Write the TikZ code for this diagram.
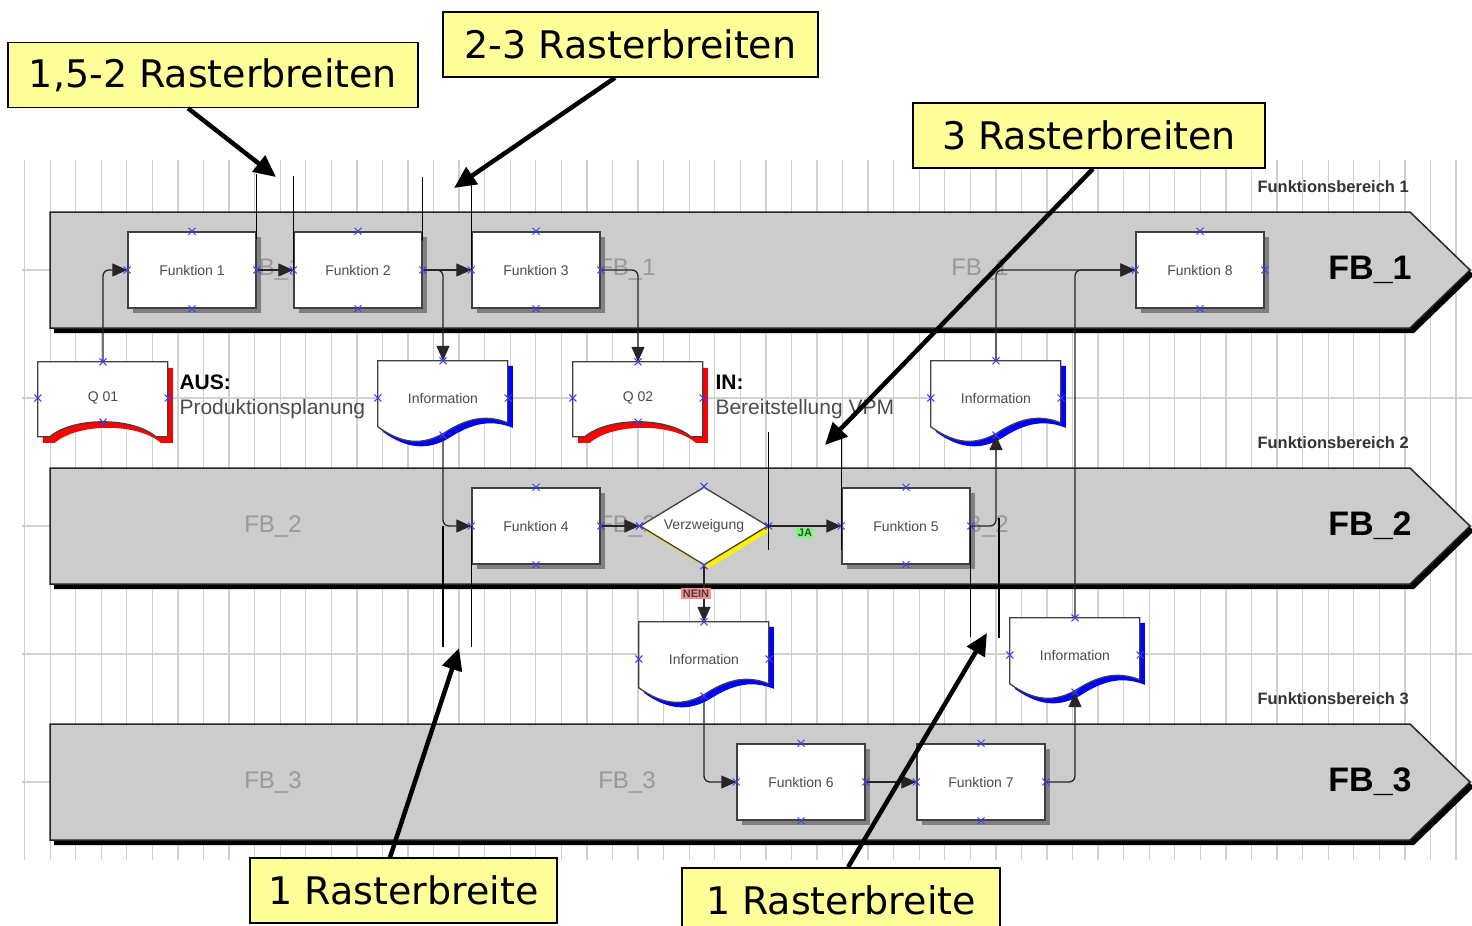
\documentclass[tikz,border=0pt]{standalone}
\usepackage{fontspec}
\setmainfont{Liberation Sans}
\newfontfamily\callfont{DejaVu Sans}
\usetikzlibrary{arrows.meta,shapes.geometric,shadows,calc}
\pgfdeclarelayer{bg}
\pgfdeclarelayer{shp}
\pgfsetlayers{bg,shp,main}
\definecolor{bandgray}{RGB}{204,204,204}
\definecolor{noteyellow}{RGB}{255,255,153}
\definecolor{cpblue}{RGB}{60,60,255}
\tikzset{
  gridline/.style={draw=black!18, line width=1.3pt},
  band/.style={fill=bandgray, draw=black!85, line width=1.5pt},
  fbbig/.style={font=\bfseries\fontsize{34}{36}\selectfont},
  fbarea/.style={anchor=west, font=\bfseries\fontsize{16.5}{18}\selectfont, text=black!80},
  watermark/.style={font=\fontsize{24}{26}\selectfont, text=black!40},
  fbox/.style={draw=black!75, line width=1.5pt, fill=white, minimum width=128pt, minimum height=76pt,
    font=\fontsize{14}{16}\selectfont, text=black!70,
    drop shadow={shadow xshift=5pt, shadow yshift=-5pt, fill=black!50, opacity=1}},
  docu/.style={minimum width=130pt, minimum height=74pt, inner sep=0pt, font=\fontsize{14}{16}\selectfont, text=black!70},
  qdoc/.style={minimum width=130pt, minimum height=72pt, inner sep=0pt, font=\fontsize{14}{16}\selectfont, text=black!70},
  docline/.style={fill=white, draw=black!75, line width=1.3pt},
  vzw/.style={diamond, aspect=1.64, draw=black!75, line width=1.3pt, fill=white, minimum width=128pt, minimum height=78pt,
    inner sep=0pt, font=\fontsize{14}{16}\selectfont, text=black!70,
    drop shadow={shadow xshift=4pt, shadow yshift=-4pt, fill=yellow, opacity=1}},
  conn/.style={draw=black!85, line width=1.3pt, rounded corners=6pt, -{Triangle[length=15pt,width=13pt]}},
  jalab/.style={sharp corners, fill=green!55, inner sep=1.5pt, font=\bfseries\fontsize{11}{12}\selectfont, text=black!75},
  neinlab/.style={sharp corners, fill=red!45, inner sep=1.5pt, font=\bfseries\fontsize{11}{12}\selectfont, text=black!75},
  labeltext/.style={anchor=west, align=left, font=\fontsize{21}{25}\selectfont, text=black!70},
  cpmark/.style={draw=cpblue, line width=1pt},
  markline/.style={draw=black, line width=1.4pt},
  note/.style={fill=noteyellow, draw=black, line width=1.5pt, minimum height=65pt, inner sep=0pt,
    font=\callfont\fontsize{38}{42}\selectfont},
  notearrow/.style={draw=black, line width=4.5pt, -{Triangle[length=22pt,width=20pt]}}
}

\begin{document}
\begin{tikzpicture}[x=1pt,y=-1pt]
  \useasboundingbox (0,0) rectangle (1472,926);

  \begin{pgfonlayer}{bg}
    \fill[white] (0,0) rectangle (1472,926);
    \foreach \k in {0,...,56}
      \draw[gridline] (24.6+25.56*\k,160) -- (24.6+25.56*\k,860);
    \foreach \y in {270,398,526,654,782}
      \draw[gridline] (22,\y) -- (1472,\y);
    \foreach \y/\n/\xs in {270/1/{273,627,980},526/2/{273,627,980},782/3/{273,627}}{
      \fill[black, shift={(4,5)}] (50,\y-58) -- (1410,\y-58) -- (1470,\y) -- (1410,\y+58) -- (50,\y+58) -- cycle;
      \draw[band] (50,\y-58) -- (1410,\y-58) -- (1470,\y) -- (1410,\y+58) -- (50,\y+58) -- cycle;
      \foreach \x in \xs
        \node[watermark] (wm\n\x) at (\x,\y) {FB\_\n};
      \node[fbbig] (fb\n) at (1370,\y) {FB\_\n};
      \node[fbarea] (fbb\n) at (1254,\y-83) {Funktionsbereich \n};
    }
  \end{pgfonlayer}

  \node[fbox] (f1) at (192,270) {Funktion 1};
  \node[fbox] (f2) at (358,270) {Funktion 2};
  \node[fbox] (f3) at (536,270) {Funktion 3};
  \node[fbox] (f8) at (1200,270) {Funktion 8};
  \node[fbox] (f4) at (536,526) {Funktion 4};
  \node[vzw] (vz) at (704,526) {Verzweigung};
  \node[fbox] (f5) at (906,526) {Funktion 5};
  \node[fbox] (f6) at (801,782) {Funktion 6};
  \node[fbox] (f7) at (981,782) {Funktion 7};

  \node[qdoc] (q1) at (103,398) {Q 01};
  \node[docu] (i1) at (443,398) {Information};
  \node[qdoc] (q2) at (638,398) {Q 02};
  \node[docu] (i2) at (996,398) {Information};
  \node[docu] (i3) at (704,659) {Information};
  \node[docu] (i4) at (1075,655) {Information};

  \node[labeltext] (aus) at (176,397) {\textbf{\color{black}AUS:}\\Produktionsplanung};
  \node[labeltext] (in) at (712,397) {\textbf{\color{black}IN:}\\Bereitstellung VPM};

  \begin{pgfonlayer}{shp}
    \foreach \d in {i1,i2,i3,i4}{
      \fill[blue, shift={($(\d.north west)+(5,5)$)}] (0,0) -- (130,0) -- (130,62)
        .. controls (105,52) and (85,60) .. (65,73) .. controls (45,84) and (25,84) .. (0,66) -- cycle;
      \draw[docline, shift={(\d.north west)}] (0,0) -- (130,0) -- (130,62)
        .. controls (105,52) and (85,60) .. (65,73) .. controls (45,84) and (25,84) .. (0,66) -- cycle;
    }
    \foreach \d in {q1,q2}{
      \fill[red, shift={($(\d.north west)+(5,6)$)}] (0,0) -- (130,0) -- (130,75) -- (118,75)
        .. controls (95,55) and (35,55) .. (12,75) -- (0,75) -- cycle;
      \draw[docline, shift={(\d.north west)}] (0,0) -- (130,0) -- (130,75) -- (118,75)
        .. controls (95,55) and (35,55) .. (12,75) -- (0,75) -- cycle;
    }
  \end{pgfonlayer}

  \draw[conn] (q1.north) |- (f1.west);
  \draw[conn] (f1.east) -- (f2.west);
  \draw[conn] (f2.east) -- (f3.west);
  \draw[conn] (f2.east) -| (i1.north);
  \draw[conn] (f3.east) -| (q2.north);
  \draw[conn] (i1.south) |- (f4.west);
  \draw[conn] (f4.east) -- (vz.west);
  \draw[conn] (vz.east) -- node[jalab, yshift=-7pt] (ja) {JA} (f5.west);
  \draw[conn] (vz.south) -- node[neinlab, xshift=-8pt] (nein) {NEIN} (i3.north);
  \draw[conn] (f5.east) -| (i2.south);
  \draw[conn] (i2.north) |- (f8.west);
  \draw[conn] (i4.north) |- (f8.west);
  \draw[conn] (i3.south) |- (f6.west);
  \draw[conn] (f6.east) -- (f7.west);
  \draw[conn] (f7.east) -| (i4.south);

  \foreach \n in {f1,f2,f3,f4,f5,f6,f7,f8,vz,i1,i2,i3,i4}
    \foreach \a in {north,south,east,west}
      \draw[cpmark] (\n.\a) +(-3.5,-3.5) -- +(3.5,3.5) +(-3.5,3.5) -- +(3.5,-3.5);
  \foreach \n in {q1,q2}{
    \foreach \a in {north,east,west}
      \draw[cpmark] (\n.\a) +(-3.5,-3.5) -- +(3.5,3.5) +(-3.5,3.5) -- +(3.5,-3.5);
    \draw[cpmark] ($(\n.south)+(0,-12)$) +(-3.5,-3.5) -- +(3.5,3.5) +(-3.5,3.5) -- +(3.5,-3.5);
  }

  \draw[markline] ([yshift=-8pt]f1.north east) -- ++(0,-65);
  \draw[markline] (f2.west) -- ++(0,-94);
  \draw[markline] ([yshift=-10pt]f2.north east) -- ++(0,-64);
  \draw[markline] (f3.west) -- ++(0,-90);
  \draw[markline] ([yshift=-24pt]vz.east) -- ++(0,-118);
  \draw[markline] ([yshift=-24pt]f5.west) -- ++(0,-114);
  \draw[markline] (i1.south |- f4.west) -- ++(0,121);
  \draw[markline] (f4.west) -- ++(0,121);
  \draw[markline] (f5.east) -- ++(0,111);
  \draw[markline] (i2.south |- f5.east) ++(3,-8) -- ++(0,120);

  \node[note, minimum width=410pt] (c1) at (213,75) {1,5-2 Rasterbreiten};
  \node[note, minimum width=375pt] (c2) at (630.5,44.5) {2-3 Rasterbreiten};
  \node[note, minimum width=352pt] (c3) at (1089,135.5) {3 Rasterbreiten};
  \node[note, minimum width=307pt] (c4) at (403.5,890.5) {1 Rasterbreite};
  \node[note, minimum width=318pt] (c5) at (841,900.5) {1 Rasterbreite};

  \coordinate (t1) at (276,177);
  \coordinate (t2) at (454,188);
  \coordinate (t3) at (825,445);
  \coordinate (t4) at (459,648);
  \coordinate (t5) at (987,633);
  \draw[notearrow] ([xshift=-25pt]c1.south) -- (t1);
  \draw[notearrow] ([xshift=-15.5pt]c2.south) -- (t2);
  \draw[notearrow] ([xshift=4pt]c3.south) -- (t3);
  \draw[notearrow] ([xshift=-13.5pt]c4.north) -- (t4);
  \draw[notearrow] ([xshift=7pt]c5.north) -- (t5);
\end{tikzpicture}
\end{document}
